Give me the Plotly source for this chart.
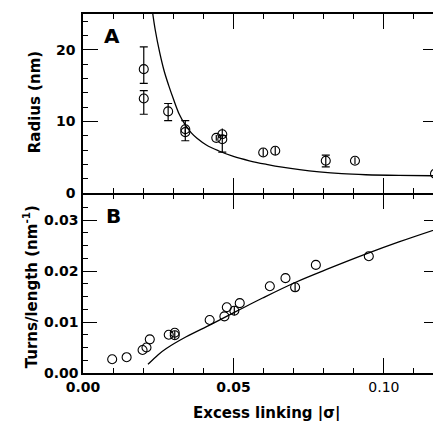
import plotly.graph_objects as go
from plotly.subplots import make_subplots

# ---------------- data ----------------
# Panel A: Radius (nm) vs excess linking |sigma|
xA = [0.0202, 0.0202, 0.0283, 0.0340, 0.0340, 0.0443, 0.0463, 0.0463,
      0.0599, 0.0639, 0.0807, 0.0904, 0.1170]
yA = [17.3, 13.2, 11.4, 8.9, 8.5, 7.7, 8.2, 7.5, 5.65, 5.9, 4.5, 4.5, 2.7]
errA_plus = [3.1, 1.1, 1.1, 1.2, 0.4, 0.4, 0.8, 0.5, 0.6, 0.6, 0.8, 0.5, 0.5]
errA_minus = [2.0, 2.2, 1.3, 1.6, 0.4, 0.4, 0.6, 1.8, 0.6, 0.6, 0.85, 0.5, 0.5]

curveA_x = [0.0232, 0.0240, 0.0255, 0.0270, 0.0285, 0.0300, 0.0320, 0.0340,
            0.0360, 0.0380, 0.0410, 0.0450, 0.0500, 0.0553, 0.0610, 0.0662,
            0.0720, 0.0785, 0.0860, 0.0940, 0.1050, 0.1180]
curveA_y = [25.0, 22.8, 19.6, 17.0, 15.0, 13.2, 11.0, 9.5,
            8.4, 7.6, 6.7, 5.9, 5.1, 4.5, 4.0, 3.6,
            3.25, 2.95, 2.7, 2.55, 2.45, 2.4]

# Panel B: Turns/length (nm^-1) vs excess linking |sigma|
xB = [0.0097, 0.0145, 0.0198, 0.0211, 0.0222, 0.0285, 0.0305, 0.0305,
      0.0421, 0.0470, 0.0478, 0.0503, 0.0521, 0.0621, 0.0673, 0.0705,
      0.0774, 0.0950]
yB = [0.0027, 0.0031, 0.0045, 0.0050, 0.0066, 0.0075, 0.0079, 0.0074,
      0.0104, 0.0111, 0.0129, 0.0122, 0.0137, 0.0170, 0.0186, 0.0168,
      0.0212, 0.0229]
errB = [None, None, None, None, None, None, None, 0.0009, None, None, None,
        0.0009, None, None, None, 0.0009, None, None]

curveB_x = [0.0216, 0.0250, 0.0277, 0.0343, 0.0421, 0.0487, 0.0520, 0.0597,
            0.0707, 0.0818, 0.0939, 0.1050, 0.1180]
curveB_y = [0.0017, 0.0036, 0.0048, 0.0071, 0.0094, 0.0114, 0.0124, 0.0147,
            0.0178, 0.0205, 0.0233, 0.0257, 0.0283]

x_tickvals = [0.00, 0.05, 0.10]
x_ticktext = ["<b>0.00</b>", "<b>0.05</b>", "0.10"]

# ---------------- figure ----------------
# the page body has an 8 px margin; the figure is sized/positioned so the
# plot area lands at page pixels x 83..440, y 14..373
OFF = 8
W, H = 441 - OFF, 421 - OFF
ML, MR, MT, MB = 83 - OFF, 1, 14 - OFF, 48
PW, PH = W - ML - MR, H - MT - MB
split = (H - MB - (193 - OFF)) / PH
gap = 1.5 / PH


def px(x):  # page pixel -> paper coordinate
    return (x - OFF - ML) / PW


def py(y):
    return (H - MB - (y - OFF)) / PH


fig = make_subplots(rows=2, cols=1, shared_xaxes=False, vertical_spacing=0)

black = "black"
FONT = "DejaVu Sans"
marker = dict(symbol="circle-open", size=9, color=black, line=dict(width=1.1, color=black))

# split panel A points into capped (long bars) and uncapped (short bars)
capped = [i for i in range(len(xA)) if errA_plus[i] + errA_minus[i] > 1.5]
uncapped = [i for i in range(len(xA)) if i not in capped]


def pick(arr, idx):
    return [arr[i] for i in idx]


fig.add_trace(go.Scatter(x=curveA_x, y=curveA_y, mode="lines", line_shape="spline",
                         line=dict(color=black, width=1.3), hoverinfo="skip"), row=1, col=1)
for idx, w in ((capped, 4), (uncapped, 0)):
    fig.add_trace(go.Scatter(x=pick(xA, idx), y=pick(yA, idx), mode="markers", marker=marker,
                             error_y=dict(type="data", symmetric=False,
                                          array=pick(errA_plus, idx),
                                          arrayminus=pick(errA_minus, idx), color=black,
                                          thickness=1.2, width=w)), row=1, col=1)

fig.add_trace(go.Scatter(x=curveB_x, y=curveB_y, mode="lines", line_shape="spline",
                         line=dict(color=black, width=1.3), hoverinfo="skip"), row=2, col=1)
fig.add_trace(go.Scatter(x=xB, y=yB, mode="markers", marker=marker,
                         error_y=dict(type="data", array=errB, color=black,
                                      thickness=1.2, width=0)), row=2, col=1)

axis_common = dict(showline=True, linecolor=black, linewidth=1.5, mirror="ticks",
                   ticks="inside", tickcolor=black, tickwidth=1.2, showgrid=False,
                   zeroline=False)
xrange = [0, 0.118]

fig.update_layout(
    width=W, height=H, showlegend=False,
    margin=dict(l=ML, r=MR, t=MT, b=MB),
    paper_bgcolor="white", plot_bgcolor="white",
    font=dict(family=FONT, color=black),
    xaxis=dict(**axis_common, range=xrange, tickvals=x_tickvals, ticklen=15,
               showticklabels=False, domain=[0, 1],
               minor=dict(dtick=0.01, ticks="inside", ticklen=5, tickcolor=black, tickwidth=1.1)),
    xaxis2=dict(**axis_common, range=xrange, tickvals=x_tickvals, ticktext=x_ticktext,
                ticklen=15, domain=[0, 1],
                tickfont=dict(family=FONT, size=14, color=black),
                minor=dict(dtick=0.01, ticks="inside", ticklen=5, tickcolor=black, tickwidth=1.1)),
    yaxis=dict(**axis_common, range=[0, 25], dtick=10, ticklen=15, domain=[split, 1],
               tickfont=dict(family=FONT, size=14, color=black, weight="bold"),
               ticklabelstandoff=3,
               minor=dict(dtick=2, ticks="inside", ticklen=5, tickcolor=black, tickwidth=1.1)),
    yaxis2=dict(**axis_common, range=[0, 0.035], dtick=0.01, tickformat=".2f", ticklen=14,
                domain=[0, split - gap],
                tickfont=dict(family=FONT, size=14, color=black, weight="bold"),
                ticklabelstandoff=0,
                minor=dict(dtick=0.0025, ticks="inside", ticklen=5, tickcolor=black, tickwidth=1.1)),
)

ann_font = dict(family=FONT, size=15, color=black, weight="bold")
fig.add_annotation(text="Radius (nm)", xref="paper", yref="paper", x=px(35), y=py(102),
                   textangle=-90, showarrow=False, xanchor="center", yanchor="middle", font=ann_font)
fig.add_annotation(text="Turns/length (nm<sup>-1</sup>)", xref="paper", yref="paper",
                   x=px(30), y=py(287), textangle=-90, showarrow=False,
                   xanchor="center", yanchor="middle", font=ann_font)
fig.add_annotation(text="Excess linking |σ|", xref="paper", yref="paper", x=px(268), y=py(413),
                   showarrow=False, xanchor="center", yanchor="middle", font=ann_font)
fig.add_annotation(text="A", xref="paper", yref="paper", x=px(112), y=py(36), showarrow=False,
                   xanchor="center", yanchor="middle",
                   font=dict(family=FONT, size=20, color=black, weight="bold"))
fig.add_annotation(text="B", xref="paper", yref="paper", x=px(114), y=py(216), showarrow=False,
                   xanchor="center", yanchor="middle",
                   font=dict(family=FONT, size=20, color=black, weight="bold"))

fig.write_html("out.html")
